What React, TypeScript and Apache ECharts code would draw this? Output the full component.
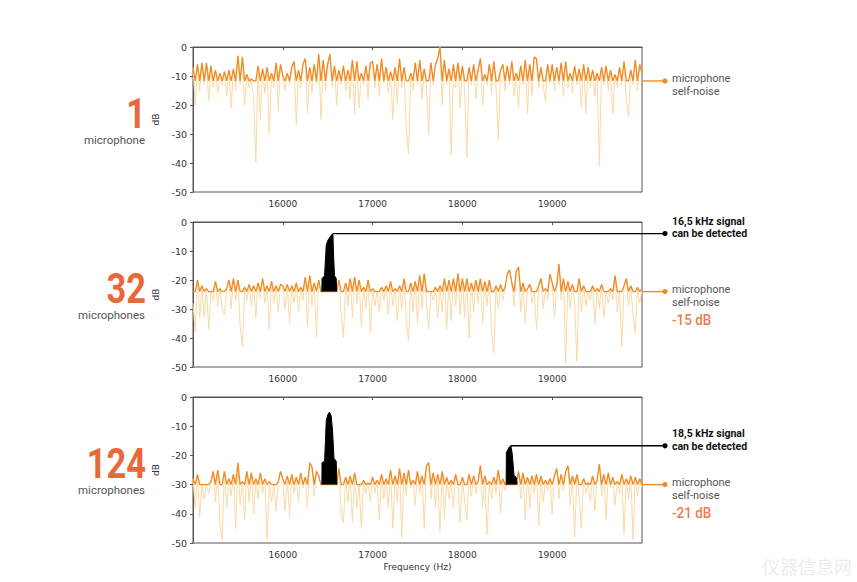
import React, { useEffect, useRef } from "react";
import * as echarts from "echarts";

// ---- frequency grid of the spectra ----
const FREQ_START = 15000;
const FREQ_STEP = 25;
const X_MIN = 15000;
const X_MAX = 20000;
const X_INTERVAL = 1000;
const Y_MIN = -50;
const Y_MAX = 0;
const Y_INTERVAL = 10;

// ---- panel labels ----
const MIC_COUNTS = ["1", "32", "124"];
const MIC_WORDS = ["microphone", "microphones", "microphones"];
const NOISE_GAINS = ["", "-15 dB", "-21 dB"];
const SIGNAL_NOTES = ["", "16,5 kHz signal", "18,5 kHz signal"];

// ---- self-noise floors (dB) ----
const FLOORS = [-11.7, -24, -30];

// ---- spectra (dB), one value every 25 Hz from 15000 to 20000 ----
const NOISE_1 = [
  -7, -20, -6, -15, -5.5, -13, -5.5, -18.5, -6.5, -14,
  -8, -16, -9, -13, -8.5, -17, -8, -21, -7.5, -15,
  -3, -13, -3.5, -20, -9.5, -14, -11, -18, -40, -6.5,
  -25, -7.5, -16, -7, -30, -9, -14, -5.5, -22, -6,
  -10, -15, -9, -13, -7, -5, -27, -8, -14, -6,
  -4, -23, -7, -16, -6, -13, -2.5, -25, -4.5, -15,
  -6, -2.5, -14, -6.5, -20, -8, -13, -6.5, -15, -8,
  -18, -4.5, -23, -5, -21, -9, -13, -6.5, -18, -5.5,
  -5, -14, -6, -17, -4, -12.5, -7, -16, -8.5, -25,
  -7, -20, -4, -14, -7, -28, -37, -9, -15, -5.5,
  -13, -4.5, -18, -7.5, -14, -30, -5.5, -13, -6, -4,
  0, -20, -4.5, -13, -7.5, -37, -6, -14, -5.5, -21,
  -6.5, -15, -38, -7, -13, -6, -18, -8, -4, -20,
  -9.5, -13, -6, -16, -5, -14, -32, -8, -6, -15,
  -6.5, -13, -5, -17, -9, -21, -6.5, -13, -4.5, -23,
  -6, -17, -3.5, -4, -14, -7, -13, -19, -6, -12.5,
  -6, -15, -7, -13, -5.5, -17, -5, -14, -9, -16,
  -6.5, -13, -7.5, -21, -6, -23, -7, -14, -8, -17,
  -9, -41, -7, -13, -6.5, -15, -8, -23, -9.5, -14,
  -7, -13, -5, -18, -24, -8, -13, -4.5, -15, -6,
  -9,
];

const NOISE_2 = [
  -28, -38, -20, -33, -22, -33, -23, -37, -24, -27,
  -20.5, -29, -23, -30, -32, -23, -20, -30, -19.5, -27,
  -20, -36, -43, -22.5, -27, -21.5, -29, -22, -33, -21,
  -26, -19.5, -28, -22, -37, -20.5, -28, -22, -31, -21.5,
  -22, -30, -21.5, -35, -22, -28, -21, -31, -22.5, -27,
  -19, -36, -18.5, -29, -21, -40, -20, -24, -24, -24,
  -24, -24, -24, -24, -24, -20, -32, -40, -21, -29,
  -19.5, -33, -19, -28, -20, -36, -22.5, -30, -20, -38,
  -23, -29, -24, -31, -22.5, -27, -22, -32, -20.5, -29,
  -23, -34, -22, -30, -19.5, -33, -41, -21, -31, -20.5,
  -35, -18.5, -30, -17.8, -28, -37, -24, -27, -22.5, -33,
  -22, -31, -19.5, -37, -20, -34, -19.5, -29, -17.8, -32,
  -19.5, -33, -19.5, -40, -21, -31, -20, -28, -19.5, -35,
  -20.5, -29, -20, -38, -45, -22, -30, -21.5, -27, -22.5,
  -18, -16.5, -21, -29, -17, -15.5, -31, -21, -35, -23,
  -21.5, -28, -24, -37, -22, -19.5, -30, -23, -27, -18,
  -21, -33, -22, -14.5, -27, -19.5, -49, -20.5, -30, -21.5,
  -28, -48, -19.5, -31, -22, -29, -24, -27, -22, -35,
  -23, -30, -21.5, -33, -24, -28, -23, -27, -18.5, -31,
  -24, -43, -22, -19.5, -29, -22, -32, -38, -22.5, -28,
  -23,
];

const NOISE_3 = [
  -28, -38, -26.5, -41, -30, -35, -30, -33, -29, -25.5,
  -36, -25, -44, -49, -25.5, -38, -28, -34, -26.5, -45,
  -22.5, -37, -29, -42, -25.5, -36, -26, -40, -28, -35,
  -26, -33, -28, -49, -29, -36, -30, -39, -29, -25.5,
  -28, -39, -27, -41, -26.5, -33, -27.5, -36, -26, -31,
  -27.5, -38, -22.5, -24, -34, -25.5, -27, -30, -30, -30,
  -30, -30, -30, -30, -30, -24.5, -40, -43, -27.5, -36,
  -27, -43, -26, -38, -30, -45, -28.5, -33, -29.5, -36,
  -27.5, -33, -28.5, -42, -26.5, -35, -28, -38, -25, -45,
  -27, -36, -24.5, -48, -26, -34, -25, -31, -28.5, -37,
  -25.5, -33, -27, -45, -23.5, -22.5, -35, -26, -38, -26.5,
  -46, -25.5, -42, -27.5, -35, -28.5, -38, -26.5, -30, -43,
  -27.5, -36, -42, -26.5, -34, -27, -33, -29, -23.5, -38,
  -27, -47, -29, -35, -27.5, -33, -25, -40, -28, -32,
  -30, -30, -30, -30, -30, -25.5, -35, -26, -42, -27.5,
  -38, -27, -33, -26.5, -44, -27, -36, -28.5, -32, -28,
  -40, -27, -24.5, -35, -26.5, -32, -25.5, -23.5, -37, -27,
  -48, -26.5, -34, -45, -28, -33, -29.5, -36, -27, -39,
  -28.5, -23, -34, -26.5, -42, -26, -31, -27.5, -37, -29,
  -33, -26.5, -47, -28, -35, -27, -49, -27.5, -34, -28,
  -31,
];

// ---- detected tones (black) ----
const SIG2_FREQ = [16435, 16437, 16465, 16484, 16502, 16539, 16558, 16566, 16576, 16595, 16600];
const SIG2_DB = [-24, -19.5, -18.5, -8, -6.3, -4.6, -4, -12, -18.5, -19.5, -24];
const SIG3A_FREQ = [16435, 16437, 16465, 16475, 16484, 16502, 16520, 16539, 16555, 16570, 16595, 16602];
const SIG3A_DB = [-30, -22.5, -22, -15, -8, -6, -5.2, -6.5, -12, -21, -22, -30];
const SIG3B_FREQ = [18487, 18490, 18520, 18540, 18555, 18575, 18600, 18610];
const SIG3B_DB = [-30, -19, -17.2, -16.7, -19.5, -27, -27.5, -30];

const DARK = "#f08a24";
const LIGHT = "#f9d9a7";
const NUM_COLOR = "#e8683a";
const GAIN_COLOR = "#ee7c4a";

const GRID_LEFT = 193;
const GRID_WIDTH = 449;
const GRID_TOPS = [47, 222, 397];
const GRID_HEIGHTS = [145, 145, 146];
const END_X = 665;

export default function App() {
  const ref = useRef<HTMLDivElement>(null);

  useEffect(() => {
    if (!ref.current) return;
    const chart = echarts.init(ref.current, undefined, { renderer: "svg" });

    const noises = [NOISE_1, NOISE_2, NOISE_3];
    const signals = [
      [],
      [[SIG2_FREQ, SIG2_DB]],
      [[SIG3A_FREQ, SIG3A_DB], [SIG3B_FREQ, SIG3B_DB]],
    ] as number[][][][];

    const grids = GRID_TOPS.map((t, k) => ({
      left: GRID_LEFT,
      top: t,
      width: GRID_WIDTH,
      height: GRID_HEIGHTS[k],
      show: true,
      borderColor: "#555",
      borderWidth: 1,
      backgroundColor: "transparent",
    }));

    const xAxes = GRID_TOPS.map((_, k) => ({
      type: "value",
      gridIndex: k,
      min: X_MIN,
      max: X_MAX,
      interval: X_INTERVAL,
      axisLine: { show: true, lineStyle: { color: "#555", width: 1 } },
      axisTick: { show: true, length: 3, lineStyle: { color: "#555" } },
      splitLine: { show: false },
      axisLabel: {
        showMinLabel: false,
        showMaxLabel: false,
        formatter: (v: number) => String(v),
        fontFamily: "DejaVu Sans",
        fontSize: 9,
        color: "#333",
        margin: 7,
      },
      name: k === 2 ? "Frequency (Hz)" : "",
      nameLocation: "middle",
      nameGap: 19,
      nameTextStyle: { fontFamily: "DejaVu Sans", fontSize: 9, color: "#333" },
    }));

    const yAxes = GRID_TOPS.map((_, k) => ({
      type: "value",
      gridIndex: k,
      min: Y_MIN,
      max: Y_MAX,
      interval: Y_INTERVAL,
      axisLine: { show: true, lineStyle: { color: "#555", width: 1 } },
      axisTick: { show: true, length: 3, lineStyle: { color: "#555" } },
      splitLine: { show: false },
      axisLabel: {
        formatter: (v: number) => String(v),
        fontFamily: "DejaVu Sans",
        fontSize: 9.5,
        color: "#333",
        margin: 6,
      },
      name: "dB",
      nameLocation: "middle",
      nameGap: 30,
      nameRotate: 90,
      nameTextStyle: { fontFamily: "DejaVu Sans", fontSize: 9, color: "#333" },
    }));

    const series: any[] = [];
    noises.forEach((noise, k) => {
      const floor = FLOORS[k];
      series.push({
        type: "line",
        xAxisIndex: k,
        yAxisIndex: k,
        data: noise.map((v, i) => [FREQ_START + i * FREQ_STEP, v]),
        symbol: "none",
        silent: true,
        lineStyle: { color: LIGHT, width: 1 },
        z: 2,
      });
      series.push({
        type: "line",
        xAxisIndex: k,
        yAxisIndex: k,
        data: noise.map((v, i) => [FREQ_START + i * FREQ_STEP, Math.max(v, floor)]),
        symbol: "none",
        silent: true,
        lineStyle: { color: DARK, width: 1.3 },
        z: 3,
      });
      signals[k].forEach(([fr, db]) => {
        series.push({
          type: "line",
          xAxisIndex: k,
          yAxisIndex: k,
          data: fr.map((f, i) => [f, db[i]]),
          symbol: "none",
          silent: true,
          lineStyle: { color: "#000", width: 1 },
          areaStyle: { color: "#000", opacity: 1, origin: floor },
          z: 4,
        });
      });
    });

    chart.setOption({
      animation: false,
      backgroundColor: "#fff",
      grid: grids,
      xAxis: xAxes,
      yAxis: yAxes,
      series,
    });

    // ---- annotations ----
    const graphic: any[] = [];
    GRID_TOPS.forEach((top, k) => {
      const floor = FLOORS[k];
      const p = chart.convertToPixel({ xAxisIndex: k, yAxisIndex: k }, [X_MAX, floor]) as number[];
      const fy = p[1];
      graphic.push({
        type: "line",
        shape: { x1: p[0], y1: fy, x2: END_X, y2: fy },
        style: { stroke: DARK, lineWidth: 1.4 },
        z: 10,
      });
      graphic.push({
        type: "circle",
        shape: { cx: END_X, cy: fy, r: 2.6 },
        style: { fill: DARK },
        z: 10,
      });
      graphic.push({
        type: "text",
        x: 672,
        y: fy + 4.5,
        style: {
          text: "microphone\nself-noise",
          fill: "#555",
          fontFamily: "Roboto",
          fontSize: 11,
          lineHeight: 13,
          textAlign: "left",
          textVerticalAlign: "middle",
        },
        z: 10,
      });
      if (NOISE_GAINS[k]) {
        graphic.push({
          type: "text",
          x: 672,
          y: fy + 28,
          scaleX: 0.9,
          style: {
            text: NOISE_GAINS[k],
            fill: GAIN_COLOR,
            fontFamily: "Roboto",
            fontWeight: 500,
            fontSize: 15,
            lineHeight: 17,
            textAlign: "left",
            textVerticalAlign: "middle",
          },
          z: 10,
        });
      }

      // detected-signal callout
      const sigs = signals[k];
      if (SIGNAL_NOTES[k] && sigs.length) {
        const [fr, db] = sigs[sigs.length - 1];
        let im = 0;
        db.forEach((v, i) => {
          if (v > db[im]) im = i;
        });
        const q = chart.convertToPixel({ xAxisIndex: k, yAxisIndex: k }, [fr[im], db[im]]) as number[];
        graphic.push({
          type: "line",
          shape: { x1: q[0], y1: q[1], x2: END_X, y2: q[1] },
          style: { stroke: "#000", lineWidth: 1.4 },
          z: 10,
        });
        graphic.push({
          type: "circle",
          shape: { cx: END_X, cy: q[1], r: 2.6 },
          style: { fill: "#000" },
          z: 10,
        });
        graphic.push({
          type: "text",
          x: 672,
          y: q[1] - 6,
          style: {
            text: SIGNAL_NOTES[k] + "\ncan be detected",
            fill: "#111",
            fontFamily: "Roboto",
            fontWeight: "bold",
            fontSize: 10.5,
            lineHeight: 12.5,
            textAlign: "left",
            textVerticalAlign: "middle",
          },
          z: 10,
        });
      }

      // left-side microphone count
      graphic.push({
        type: "text",
        x: 146,
        y: top + 67,
        scaleX: 0.8,
        style: {
          text: MIC_COUNTS[k],
          fill: NUM_COLOR,
          fontFamily: "Roboto",
          fontWeight: "bold",
          fontSize: 43,
          lineHeight: 34,
          textAlign: "right",
          textVerticalAlign: "middle",
        },
        z: 10,
      });
      graphic.push({
        type: "text",
        x: 145,
        y: top + 93,
        style: {
          text: MIC_WORDS[k],
          fill: "#555",
          fontFamily: "Roboto",
          fontSize: 11.5,
          lineHeight: 12,
          textAlign: "right",
          textVerticalAlign: "middle",
        },
        z: 10,
      });
    });

    graphic.push({
      type: "text",
      x: 762,
      y: 566,
      style: {
        text: "仪器信息网",
        fill: "#ececec",
        fontFamily: "Noto Sans CJK SC",
        fontSize: 18,
        textAlign: "left",
        textVerticalAlign: "middle",
      },
      z: 1,
    });

    chart.setOption({ graphic });

    return () => chart.dispose();
  }, []);

  return (
    <div
      ref={ref}
      style={{ position: "absolute", left: 0, top: 0, width: 857, height: 582, background: "#fff" }}
    />
  );
}
